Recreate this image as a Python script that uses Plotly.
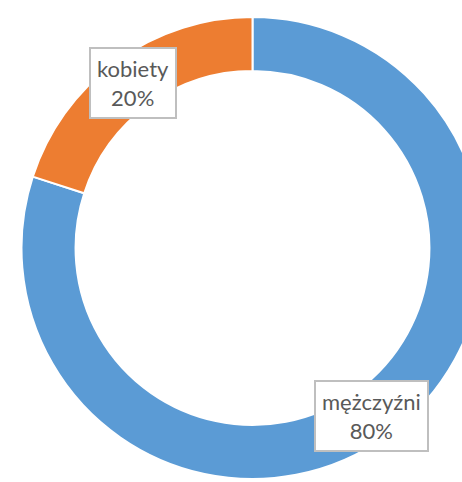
import plotly.graph_objects as go

labels = ["mężczyźni", "kobiety"]
values = [80, 20]
colors = ["#5B9BD5", "#ED7D31"]

W, H = 505, 482
cx, cy, R = 252, 248, 231

fig = go.Figure(go.Pie(
    labels=labels, values=values, hole=0.766, sort=False,
    direction="clockwise", rotation=0,
    marker=dict(colors=colors, line=dict(color="white", width=2)),
    textinfo="none", hoverinfo="skip", showlegend=False,
    domain=dict(x=[0, 1], y=[1 - (cy + R) / H, 1 - (cy - R) / H]),
))

label_pos = {"kobiety": (132.5, 82.5), "mężczyźni": (371, 416)}
for lab, val in zip(labels, values):
    px, py = label_pos[lab]
    fig.add_annotation(
        x=px / W, y=1 - py / H, xref="paper", yref="paper",
        xanchor="center", yanchor="middle",
        text=f"{lab}<br>{val}%", showarrow=False,
        font=dict(family="Lato", size=22, color="#595959"),
        bgcolor="white", bordercolor="#BFBFBF", borderwidth=2, borderpad=6,
        align="center",
    )

fig.update_layout(
    width=W, height=H, margin=dict(l=0, r=0, t=0, b=0),
    paper_bgcolor="white", plot_bgcolor="white",
)
fig.write_html("out.html", config={"displayModeBar": False},
               post_script="document.body.style.margin='0';document.body.style.overflow='hidden';document.documentElement.style.overflow='hidden';")
